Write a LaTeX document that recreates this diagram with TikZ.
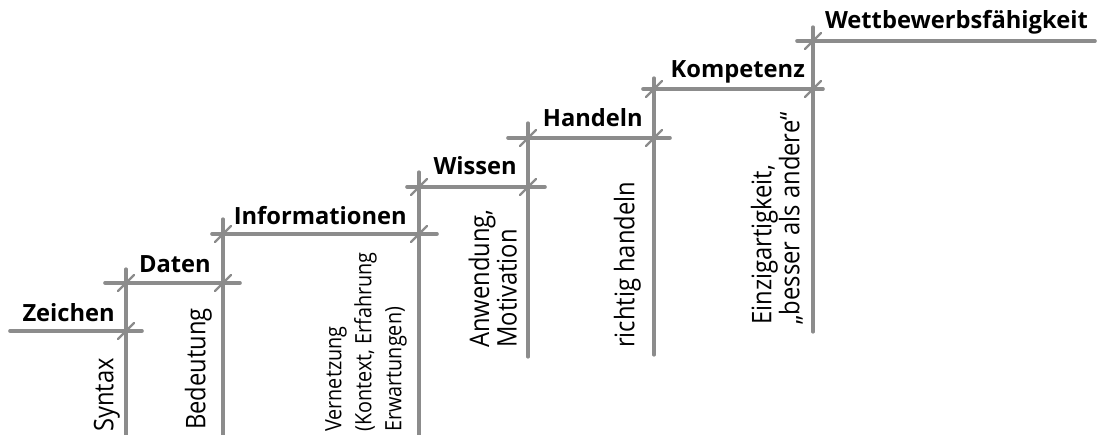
\documentclass[tikz,border=0pt]{standalone}
\usepackage{fontspec}
\setmainfont{Open Sans}
\newfontfamily\notefont[FakeStretch=0.88]{Open Sans}
\definecolor{stairgray}{gray}{0.55}
\tikzset{
  tread/.style={stairgray,line width=3.6pt,line cap=round},
  riser/.style={stairgray,line width=3.2pt,line cap=round},
  corner tick/.style={stairgray,line width=2.2pt,line cap=round},
  level/.style={font=\bfseries\fontsize{23.7}{26}\selectfont,inner sep=0pt},
  meaning/.style={font=\notefont\fontsize{27}{26}\selectfont,rotate=90,anchor=south west,align=left,inner sep=0pt},
}
\begin{document}
\begin{tikzpicture}[x=1pt,y=-1pt]
\path[use as bounding box] (0,0) rectangle (1097,435);
% treads
\draw[tread] (10,331)--(142,331);
\draw[tread] (105,283)--(240,283);
\draw[tread] (212,234)--(437,234);
\draw[tread] (407,187)--(545,187);
\draw[tread] (508,138)--(670,138);
\draw[tread] (643,89)--(823,89);
\draw[tread] (797,41)--(1095,41);
% risers
\draw[riser] (126,269)--(126,435);
\draw[riser] (223,219)--(223,435);
\draw[riser] (419,172)--(419,435);
\draw[riser] (528,123)--(528,357);
\draw[riser] (654,78)--(654,355);
\draw[riser] (813,27)--(813,332);
% corner ticks
\draw[corner tick] (118,339)--(134,323) (118,291)--(134,275);
\draw[corner tick] (215,291)--(231,275) (215,242)--(231,226);
\draw[corner tick] (411,242)--(427,226) (411,195)--(427,179);
\draw[corner tick] (520,195)--(536,179) (520,146)--(536,130);
\draw[corner tick] (646,146)--(662,130) (646,97)--(662,81);
\draw[corner tick] (805,97)--(821,81) (805,49)--(821,33);
% step names
\node[level,anchor=base east] (zeichen) at (115,322) {Zeichen};
\node[level,anchor=base east] (daten) at (211,273) {Daten};
\node[level,anchor=base east] (informationen) at (407,225) {Informationen};
\node[level,anchor=base east] (wissen) at (517,175) {Wissen};
\node[level,anchor=base east] (handeln) at (643,127) {Handeln};
\node[level,anchor=base east] (kompetenz) at (805,78) {Kompetenz};
\node[level,anchor=base east] (wettbewerb) at (1088,29) {Wettbewerbsfähigkeit};
% what each step adds
\node[meaning] (syntax) at (120,432) {Syntax};
\node[meaning] (bedeutung) at (212,430) {Bedeutung};
\node[meaning,font=\notefont\fontsize{22.5}{30}\selectfont] (vernetzung) at (407,432) {Vernetzung\\(Kontext, Erfahrung\\Erwartungen)};
\node[meaning] (anwendung) at (517,348) {Anwendung,\\Motivation};
\node[meaning] (richtig) at (641,348) {richtig handeln};
\node[meaning] (einzigartig) at (803,325) {Einzigartigkeit,\\„besser als andere“};
\end{tikzpicture}
\end{document}
